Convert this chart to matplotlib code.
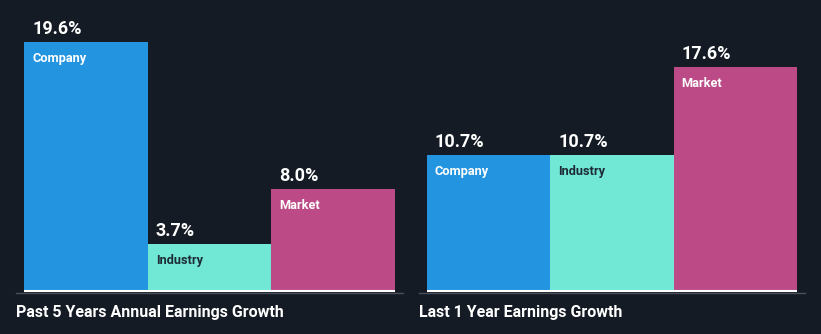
import matplotlib.pyplot as plt

# values
categories = ["Company", "Industry", "Market"]
past_5y = [19.6, 3.7, 8.0]
last_1y = [10.7, 10.7, 17.6]
titles = ["Past 5 Years Annual Earnings Growth", "Last 1 Year Earnings Growth"]

colors = ["#2394df", "#70e8d5", "#bb4a86"]
label_colors = ["#ffffff", "#1e2b36", "#ffffff"]
bg = "#151b24"

plt.rcParams['font.family'] = ['Roboto', 'DejaVu Sans']

W, H = 821, 334
fig = plt.figure(figsize=(W / 100, H / 100), dpi=100, facecolor=bg)

px_per_unit = 12.7
bottom_px = 293
ymin = -2 / px_per_unit
ymax = ymin + bottom_px / px_per_unit
unit = 371 / 3  # bar width in pixels


def panel(left_px, right_px, values, title):
    ax = fig.add_axes([left_px / W, (H - bottom_px) / H, (right_px - left_px) / W, bottom_px / H])
    ax.set_facecolor(bg)
    pad = 8 / unit
    ax.set_xlim(-0.5 - pad, 2.5 + pad)
    ax.set_ylim(ymin, ymax)
    xs = range(len(categories))
    ax.bar(xs, values, width=1.0, color=colors, linewidth=0)
    ax.hlines(0, -0.5, 2.5, color="white", lw=1.5)
    for s in ["top", "left", "right"]:
        ax.spines[s].set_visible(False)
    ax.spines["bottom"].set_color("#4a5059")
    ax.spines["bottom"].set_linewidth(1)
    ax.set_xticks([])
    ax.set_yticks([])
    for i, v in enumerate(values):
        ax.annotate(f"{v:.1f}%", xy=(i - 0.5, v), xytext=(8, 8), textcoords="offset pixels",
                    color="white", fontsize=13, fontweight="bold", va="baseline", ha="left")
        ax.annotate(categories[i], xy=(i - 0.5, v), xytext=(8, -10), textcoords="offset pixels",
                    color=label_colors[i], fontsize=9.2, fontweight="bold", va="top", ha="left")
    fig.text(left_px / W, 1 - 317 / H, title, color="white", fontsize=11.5,
             fontweight="bold", va="baseline", ha="left")
    return ax


panel(16, 403, past_5y, titles[0])
panel(419, 805, last_1y, titles[1])

fig.savefig("out.png", dpi=100, facecolor=bg)
